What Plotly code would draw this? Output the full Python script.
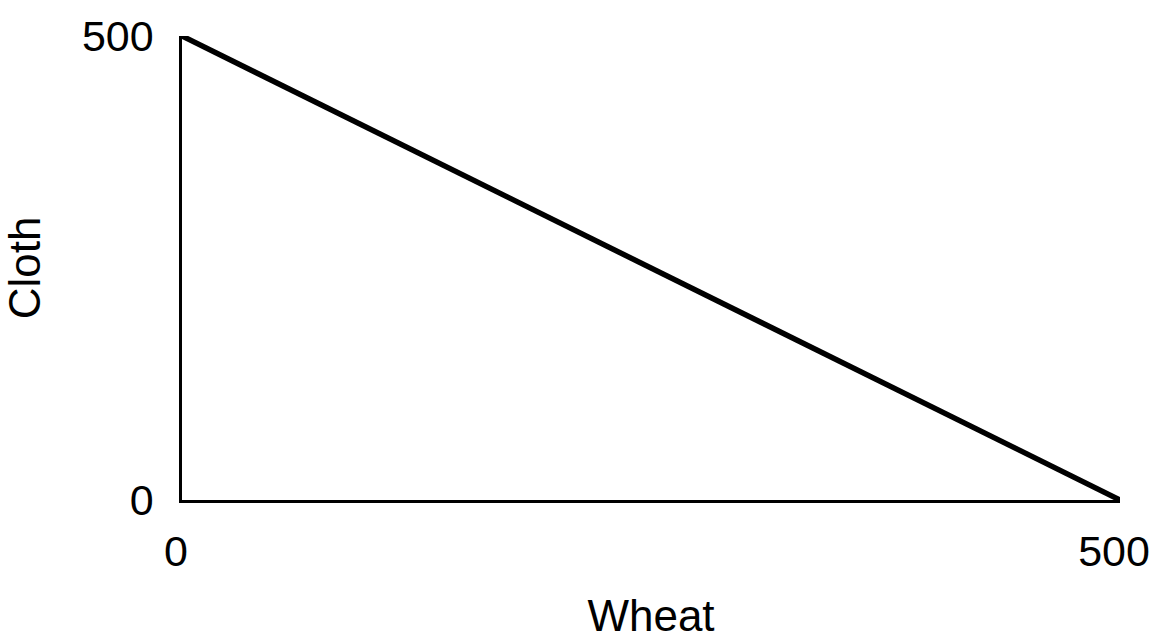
import plotly.graph_objects as go

wheat = [0, 500]
cloth = [500, 0]
tick_vals = [0, 500]
tick_text = ["0", "500"]

FONT = "Liberation Sans, Arial, sans-serif"

fig = go.Figure()
fig.add_trace(go.Scatter(
    x=wheat, y=cloth, mode="lines",
    line=dict(color="black", width=5.5),
    showlegend=False, hoverinfo="skip", cliponaxis=False,
))

fig.update_layout(
    width=1162, height=644,
    margin=dict(l=182, r=38, t=31, b=141),
    paper_bgcolor="white", plot_bgcolor="white",
    font=dict(family=FONT, size=43, color="black"),
    xaxis=dict(
        range=[0, 500], tickvals=tick_vals, ticktext=tick_text,
        showgrid=False, zeroline=False, showline=True,
        linecolor="black", linewidth=2.5, ticks="",
        ticklabelstandoff=12, ticklabelshift=-6,
        title=dict(text="Wheat", standoff=26, font=dict(size=44)),
    ),
    yaxis=dict(
        range=[0, 500], tickvals=tick_vals, ticktext=tick_text,
        showgrid=False, zeroline=False, showline=True,
        linecolor="black", linewidth=2.5, ticks="",
        ticklabelstandoff=17,
        title=dict(text="Cloth", standoff=30, font=dict(size=44)),
    ),
)

fig.write_html(
    "out.html",
    config={"displayModeBar": False},
    post_script="document.body.style.margin='0';document.body.style.padding='0';",
)
